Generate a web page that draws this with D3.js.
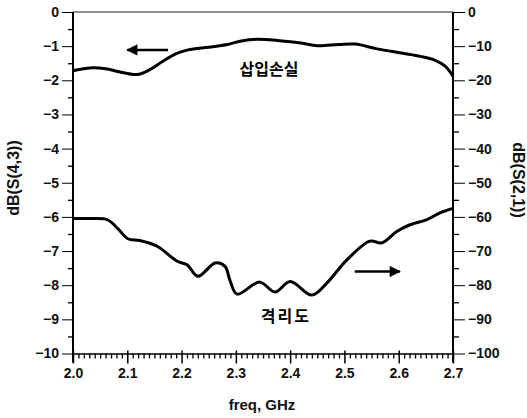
<!DOCTYPE html>
<html>
<head>
<meta charset="utf-8">
<script src="https://cdn.jsdelivr.net/npm/d3@7"></script>
<style>
  body { margin: 0; background: #fff; }
  svg { display: block; }
  .tick text { font-family: "Liberation Sans", Arial, sans-serif; font-size: 14px; font-weight: bold; fill: #111; }
  .lbl { font-family: "Liberation Sans", Arial, sans-serif; font-size: 15px; font-weight: bold; fill: #111; }
  .kr { font-family: "Noto Sans CJK KR", sans-serif; font-size: 16px; font-weight: bold; fill: #000; }
</style>
</head>
<body>
<div id="chart"></div>
<script>
// insertion loss S(4,3) - left axis, dB
const freqS43 = [2.000, 2.020, 2.037, 2.060, 2.085, 2.118, 2.140, 2.165, 2.190, 2.212, 2.250, 2.282, 2.310, 2.338, 2.380, 2.420, 2.450, 2.490, 2.520, 2.560, 2.608, 2.640, 2.665, 2.685, 2.700];
const s43 = [-1.72, -1.66, -1.63, -1.66, -1.75, -1.83, -1.70, -1.45, -1.22, -1.11, -1.03, -0.96, -0.85, -0.80, -0.84, -0.91, -0.99, -0.95, -0.94, -1.08, -1.21, -1.30, -1.40, -1.58, -1.88];

// isolation S(2,1) - right axis, dB
const freqS21 = [2.000, 2.031, 2.063, 2.083, 2.101, 2.123, 2.155, 2.192, 2.210, 2.230, 2.262, 2.280, 2.289, 2.302, 2.344, 2.372, 2.400, 2.440, 2.468, 2.505, 2.547, 2.569, 2.597, 2.621, 2.652, 2.676, 2.700];
const s21 = [-60.5, -60.5, -60.8, -63.5, -66.4, -66.9, -68.6, -73.0, -74.0, -77.4, -73.5, -74.5, -78.5, -82.6, -79.1, -82.0, -78.9, -82.9, -79.3, -72.5, -67.1, -67.6, -64.2, -62.3, -60.8, -58.8, -57.5];

const xTicks = [2.0, 2.1, 2.2, 2.3, 2.4, 2.5, 2.6, 2.7];
const leftTicks = [0, -1, -2, -3, -4, -5, -6, -7, -8, -9, -10];
const rightTicks = [0, -10, -20, -30, -40, -50, -60, -70, -80, -90, -100];

const width = 527, height = 418;
const x = d3.scaleLinear().domain([2.0, 2.7]).range([73, 453]);
const yL = d3.scaleLinear().domain([-10, 0]).range([353.5, 12]);
const yR = d3.scaleLinear().domain([-100, 0]).range([353.5, 12]);

const svg = d3.select("#chart").append("svg")
  .attr("width", width).attr("height", height);

// top frame line
svg.append("line")
  .attr("x1", x(2.0)).attr("x2", x(2.7))
  .attr("y1", yL(0)).attr("y2", yL(0))
  .attr("stroke", "#222").attr("stroke-width", 1);

// minor ticks
const minorX = d3.range(0, 71).map(i => 2.0 + i * 0.01).filter((d, i) => i % 10 !== 0);
svg.append("g").attr("transform", `translate(0,${yL(-10)})`)
  .call(d3.axisBottom(x).tickValues(minorX).tickSize(5).tickFormat(""))
  .call(g => g.select(".domain").remove())
  .call(g => g.selectAll("line").attr("stroke-width", 1.3));
svg.append("g").attr("transform", `translate(${x(2.0)},0)`)
  .call(d3.axisLeft(yL).tickValues(d3.range(-9.5, 0, 1)).tickSize(5).tickFormat(""))
  .call(g => g.select(".domain").remove())
  .call(g => g.selectAll("line").attr("stroke-width", 1.3));
svg.append("g").attr("transform", `translate(${x(2.7)},0)`)
  .call(d3.axisRight(yR).tickValues(d3.range(-95, 0, 10)).tickSize(6).tickFormat(""))
  .call(g => g.select(".domain").remove())
  .call(g => g.selectAll("line").attr("stroke-width", 1.3));

// major axes
svg.append("g").attr("transform", `translate(0,${yL(-10)})`)
  .call(d3.axisBottom(x).tickValues(xTicks).tickSize(10).tickPadding(5).tickSizeOuter(0).tickFormat(d3.format(".1f")))
  .call(g => g.select(".domain").attr("stroke-width", 1.5))
  .call(g => g.selectAll(".tick line").attr("stroke-width", 1.5).attr("y1", -3));

svg.append("g").attr("transform", `translate(${x(2.0)},0)`)
  .call(d3.axisLeft(yL).tickValues(leftTicks).tickSize(11).tickPadding(3).tickSizeOuter(0).tickFormat(d3.format("d")))
  .call(g => g.select(".domain").attr("stroke-width", 2).attr("d", `M0,${yL(0)}V${yL(-10) + 9}`))
  .call(g => g.selectAll(".tick line").attr("stroke-width", 1));

svg.append("g").attr("transform", `translate(${x(2.7)},0)`)
  .call(d3.axisRight(yR).tickValues(rightTicks).tickSize(12).tickPadding(3).tickSizeOuter(0).tickFormat(d3.format("d")))
  .call(g => g.select(".domain").attr("stroke-width", 2).attr("d", `M0,${yR(0)}V${yR(-100) + 9}`))
  .call(g => g.selectAll(".tick line").attr("stroke-width", 1));

// curves
const lineL = d3.line().x((d, i) => x(freqS43[i])).y(d => yL(d)).curve(d3.curveCatmullRom.alpha(0.5));
const lineR = d3.line().x((d, i) => x(freqS21[i])).y(d => yR(d)).curve(d3.curveCatmullRom.alpha(0.5));

svg.append("path").datum(s43).attr("d", lineL)
  .attr("fill", "none").attr("stroke", "#000").attr("stroke-width", 3).attr("stroke-linejoin", "round");
svg.append("path").datum(s21).attr("d", lineR)
  .attr("fill", "none").attr("stroke", "#000").attr("stroke-width", 3).attr("stroke-linejoin", "round");

// arrows
svg.append("defs").append("marker")
  .attr("id", "head").attr("viewBox", "0 0 10 10")
  .attr("refX", 9).attr("refY", 5)
  .attr("markerWidth", 5).attr("markerHeight", 4.5)
  .attr("markerUnits", "strokeWidth").attr("orient", "auto")
  .append("path").attr("d", "M0,0L10,5L0,10Z").attr("fill", "#000");

svg.append("line")
  .attr("x1", x(2.175)).attr("x2", x(2.100))
  .attr("y1", yL(-1.11)).attr("y2", yL(-1.11))
  .attr("stroke", "#000").attr("stroke-width", 2.5).attr("marker-end", "url(#head)");
svg.append("line")
  .attr("x1", x(2.519)).attr("x2", x(2.602))
  .attr("y1", yR(-76)).attr("y2", yR(-76))
  .attr("stroke", "#000").attr("stroke-width", 2.5).attr("marker-end", "url(#head)");

// annotations
svg.append("text").attr("class", "kr")
  .attr("x", x(2.361)).attr("y", yL(-1.84)).attr("text-anchor", "middle").text("삽입손실");
svg.append("text").attr("class", "kr")
  .attr("x", x(2.392)).attr("y", yL(-9.09)).attr("text-anchor", "middle")
  .style("letter-spacing", "2px").text("격리도");

// axis titles
svg.append("text").attr("class", "lbl")
  .attr("x", 262).attr("y", 410).attr("text-anchor", "middle").text("freq, GHz");
svg.append("text").attr("class", "lbl")
  .attr("transform", "translate(19,178) rotate(-90)").attr("text-anchor", "middle")
  .style("font-size", "16px").text("dB(S(4,3))");
svg.append("text").attr("class", "lbl")
  .attr("transform", "translate(513,180) rotate(90)").attr("text-anchor", "middle")
  .style("font-size", "16px").text("dB(S(2,1))");
</script>
</body>
</html>
